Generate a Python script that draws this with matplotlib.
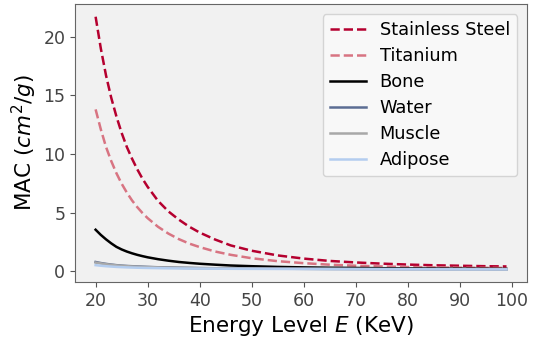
import matplotlib
matplotlib.use("Agg")
import matplotlib.pyplot as plt

energy = [20, 21, 22, 23, 24, 25, 26, 27, 28, 29, 30, 32, 34, 36, 38, 40, 43, 46, 50,
          55, 60, 65, 70, 75, 80, 85, 90, 95, 99]

stainless_steel = [21.7, 19.0, 16.7, 14.8, 13.2, 11.8, 10.6, 9.6, 8.7, 7.9, 7.2, 6.0, 5.1,
                   4.4, 3.8, 3.3, 2.7, 2.2, 1.75, 1.35, 1.08, 0.88, 0.75, 0.65, 0.57, 0.51,
                   0.47, 0.43, 0.41]
titanium = [13.8, 12.1, 10.6, 9.4, 8.36, 7.47, 6.71, 6.04, 5.47, 4.97, 4.53, 3.79, 3.21,
            2.74, 2.36, 2.06, 1.68, 1.40, 1.11, 0.86, 0.69, 0.56, 0.47, 0.41, 0.36, 0.33,
            0.30, 0.29, 0.28]
bone = [3.54, 3.1, 2.72, 2.38, 2.08, 1.86, 1.68, 1.53, 1.40, 1.29, 1.19, 1.03, 0.90, 0.79,
        0.71, 0.64, 0.56, 0.49, 0.43, 0.37, 0.33, 0.30, 0.28, 0.26, 0.24, 0.23, 0.22, 0.21,
        0.20]
water = [0.79, 0.70, 0.63, 0.57, 0.52, 0.48, 0.45, 0.43, 0.41, 0.39, 0.37, 0.34, 0.32, 0.30,
         0.285, 0.27, 0.255, 0.245, 0.23, 0.22, 0.21, 0.20, 0.195, 0.19, 0.185, 0.18, 0.176,
         0.173, 0.17]
muscle = [0.74, 0.67, 0.60, 0.55, 0.50, 0.465, 0.435, 0.41, 0.39, 0.37, 0.355, 0.33, 0.31,
          0.29, 0.28, 0.265, 0.25, 0.24, 0.227, 0.217, 0.207, 0.199, 0.193, 0.188, 0.183,
          0.179, 0.175, 0.172, 0.169]
adipose = [0.52, 0.47, 0.43, 0.40, 0.37, 0.35, 0.33, 0.315, 0.30, 0.29, 0.28, 0.265, 0.25,
           0.24, 0.232, 0.225, 0.217, 0.21, 0.203, 0.196, 0.19, 0.185, 0.18, 0.176, 0.172,
           0.168, 0.165, 0.162, 0.16]

series = [
    ("Stainless Steel", stainless_steel, "#b5002f", "--"),
    ("Titanium", titanium, "#d87482", "--"),
    ("Bone", bone, "#000000", "-"),
    ("Water", water, "#5b6d93", "-"),
    ("Muscle", muscle, "#a8a8a8", "-"),
    ("Adipose", adipose, "#b4cdef", "-"),
]

fig = plt.figure(figsize=(5.4, 3.41), dpi=100)
ax = fig.add_axes([0.139, 0.173, 0.837, 0.815])
ax.set_facecolor("#f1f1f1")

for name, vals, color, ls in series:
    ax.plot(energy, vals, ls, color=color, lw=1.8, label=name)

ax.set_xticks([20, 30, 40, 50, 60, 70, 80, 90, 100])
ax.set_yticks([0, 5, 10, 15, 20])
ax.tick_params(labelsize=12.5, colors="#555555", labelcolor="#444444", length=3.5)
for s in ax.spines.values():
    s.set_color("#666666")

ax.set_xlabel("Energy Level $E$ (KeV)", fontsize=15.5, labelpad=3)
ax.set_ylabel("MAC ($cm^2/g$)", fontsize=15.5, labelpad=3)

leg = ax.legend(loc="upper right", fontsize=12.8, frameon=True, fancybox=True,
                handlelength=2.0, labelspacing=0.45, borderpad=0.4, borderaxespad=0,
                bbox_to_anchor=(0.978, 0.964))
leg.get_frame().set_facecolor("#fafafa")
leg.get_frame().set_edgecolor("#cccccc")

fig.savefig("out.png", dpi=100)
